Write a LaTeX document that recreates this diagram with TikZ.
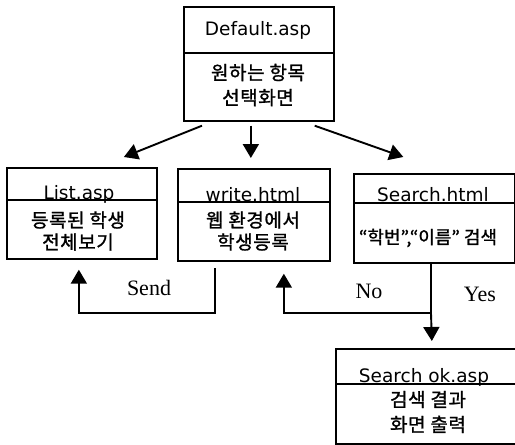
\documentclass[tikz,border=0pt]{standalone}
\usepackage{fontspec}
\setmainfont{Liberation Serif}
\newfontfamily\kr[FakeBold=1.2, LetterSpace=3]{Noto Sans CJK KR}
\newfontfamily\krtight[FakeBold=1.2]{Noto Sans CJK KR}
\newfontfamily\pagefont{DejaVu Sans}
\usetikzlibrary{arrows.meta, positioning}

\tikzset{
  page/.style={draw, line width=1.7pt, anchor=north west, inner sep=0pt},
  rule/.style={line width=1.3pt},
  title/.style={font=\pagefont\fontsize{18.5}{20}\selectfont, inner sep=0pt, anchor=base},
  body/.style={font=\kr\fontsize{19}{25}\selectfont, align=center, inner sep=0pt},
  arr/.style={-{Triangle[width=16pt,length=14pt]}, line width=1.9pt},
  flow/.style={line width=1.9pt},
  lbl/.style={font=\fontsize{22}{24}\selectfont, inner sep=0pt}
}

\begin{document}
\begin{tikzpicture}[x=1pt, y=-1pt]
    \useasboundingbox (0,0) rectangle (515,445);
    \clip (0,0) rectangle (515,445);

    % Default.asp
    \node[page, minimum width=150pt, minimum height=114pt] (def) at (183,6) {};
    \draw[rule] (def.west |- 0,53) -- (def.east |- 0,53);
    \node[title] (deftitle) at (258,35) {Default.asp};
    \node[body] (defbody) at (258,85) {원하는 항목\\선택화면};

    % List.asp
    \node[page, minimum width=150pt, minimum height=91pt] (list) at (6,167) {};
    \draw[rule] (list.west |- 0,200) -- (list.east |- 0,200);
    \node[title] (listtitle) at (79,199) {List.asp};
    \node[body, font=\kr\fontsize{19}{22}\selectfont] (listbody) at (78,231) {등록된 학생\\전체보기};

    % write.html
    \node[page, minimum width=152pt, minimum height=92pt] (write) at (177,168) {};
    \draw[rule] (write.west |- 0,202) -- (write.east |- 0,202);
    \node[title] (writetitle) at (253,201) {write.html};
    \node[body, font=\kr\fontsize{19}{22}\selectfont] (writebody) at (253,231) {웹 환경에서\\학생등록};

    % Search.html
    \node[page, minimum width=161pt, minimum height=89pt] (srch) at (353,173) {};
    \draw[rule] (srch.west |- 0,203) -- (srch.east |- 0,203);
    \node[title] (srchtitle) at (433,201) {Search.html};
    \node[body, font=\krtight\fontsize{18}{22}\selectfont] (srchbody) at (428,238) {“학번”,“이름” 검색};

    % Search ok.asp
    \node[page, minimum width=192pt, minimum height=95pt] (ok) at (335,348) {};
    \draw[rule] (ok.west |- 0,384) -- (ok.east |- 0,384);
    \node[title] (oktitle) at (424,382) {Search ok.asp};
    \node[body] (okbody) at (428,412) {검색 결과\\화면 출력};

    % from Default.asp
    \draw[arr] ([xshift=19pt,yshift=-4pt]def.south west) -- ([xshift=42pt,yshift=10pt]list.north);
    \draw[arr] ([xshift=-8pt,yshift=-4pt]def.south) -- ([xshift=-3pt,yshift=10pt]write.north);
    \draw[arr] ([xshift=-20pt,yshift=-4pt]def.south east) -- ([xshift=-31pt,yshift=16pt]srch.north);

    % Send
    \coordinate (sendtop) at (215,268);
    \coordinate (sendbot) at (215,313);
    \draw[arr] (sendtop) -- (sendbot) -| ([xshift=-3pt,yshift=-10pt]list.south);
    \node[lbl] (send) at (149,288) {Send};

    % No / Yes
    \coordinate (split) at (431,313);
    \draw[flow] (srch.south -| split) -- (split);
    \draw[arr] (split) -| ([xshift=30pt,yshift=-12pt]write.south);
    \draw[arr] (split) -- ([yshift=7pt]ok.north);
    \node[lbl] (no) at (369,291) {No};
    \node[lbl] (yes) at (480,294) {Yes};
\end{tikzpicture}
\end{document}
